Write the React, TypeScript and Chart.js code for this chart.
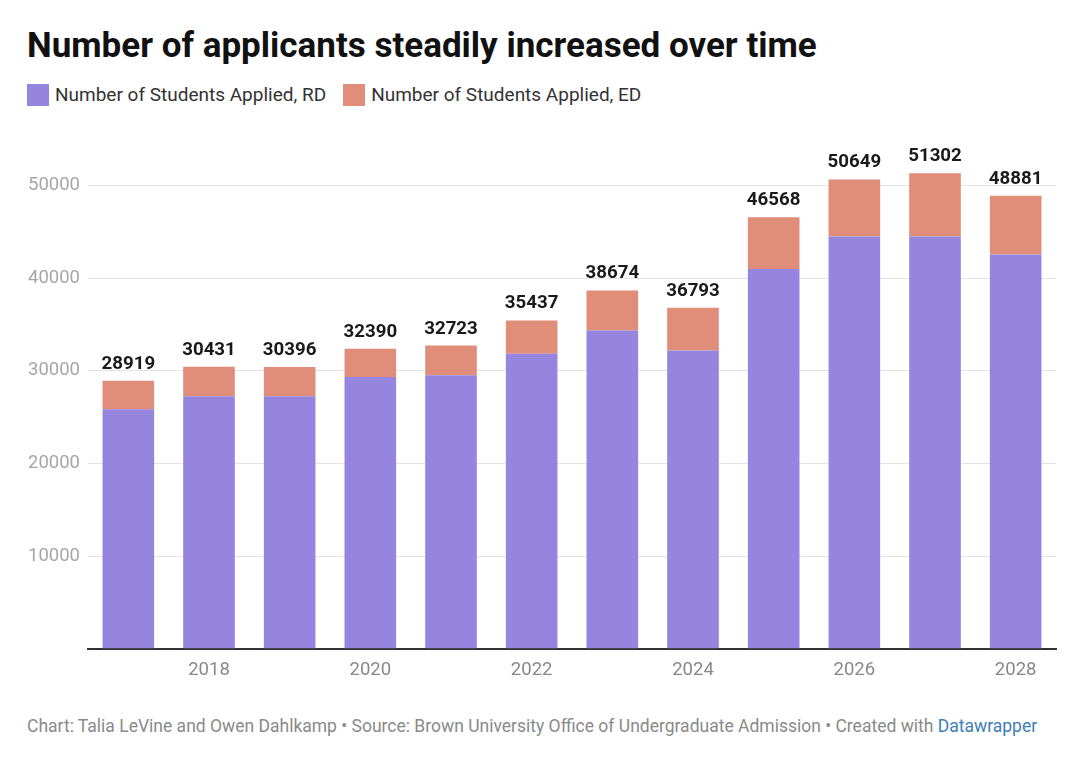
import React, { useEffect, useRef } from "react";
import { Chart, registerables } from "chart.js";

Chart.register(...registerables);

const years = ["2017", "2018", "2019", "2020", "2021", "2022", "2023", "2024", "2025", "2026", "2027", "2028"];
const rdApplied = [25860, 27260, 27260, 29330, 29510, 31840, 34360, 32200, 40990, 44480, 44480, 42540];
const edApplied = [3059, 3171, 3136, 3060, 3213, 3597, 4314, 4593, 5578, 6169, 6822, 6341];
const yTicks = [0, 10000, 20000, 30000, 40000, 50000];

const PURPLE = "rgb(150,133,222)";
const SALMON = "rgb(224,141,121)";
const FONT = "Roboto, 'Noto Sans', sans-serif";

const totalLabels = {
  id: "totalLabels",
  afterDatasetsDraw(chart: any) {
    const ctx = chart.ctx;
    const meta = chart.getDatasetMeta(1);
    ctx.save();
    ctx.font = `bold 18.7px ${FONT}`;
    ctx.fillStyle = "#1a1a1a";
    ctx.textAlign = "center";
    ctx.textBaseline = "alphabetic";
    meta.data.forEach((bar: any, i: number) => {
      const total = rdApplied[i] + edApplied[i];
      ctx.fillText(String(total), bar.x, bar.y - 12);
    });
    ctx.restore();
  },
};

export default function App() {
  const ref = useRef<HTMLCanvasElement>(null);
  useEffect(() => {
    const chart = new Chart(ref.current!, {
      type: "bar",
      data: {
        labels: years,
        datasets: [
          { label: "Number of Students Applied, RD", data: rdApplied, backgroundColor: PURPLE },
          { label: "Number of Students Applied, ED", data: edApplied, backgroundColor: SALMON },
        ],
      },
      options: {
        animation: false,
        responsive: false,
        maintainAspectRatio: false,
        layout: { padding: { top: 16, right: 24, bottom: 9, left: 0 } },
        datasets: { bar: { categoryPercentage: 1, barPercentage: 0.64 } },
        plugins: { legend: { display: false }, tooltip: { enabled: false } },
        scales: {
          x: {
            stacked: true,
            grid: { display: false, drawTicks: false },
            border: { display: true, color: "#333", width: 2 },
            ticks: {
              autoSkip: false,
              maxRotation: 0,
              padding: 10,
              color: "#888",
              font: { family: FONT, size: 18.5 },
              callback: (_v: any, i: number) => (Number(years[i]) % 2 === 0 ? years[i] : ""),
            },
          },
          y: {
            stacked: true,
            min: 0,
            max: 55000,
            afterBuildTicks: (scale: any) => {
              scale.ticks = yTicks.map((v) => ({ value: v }));
            },
            afterFit: (scale: any) => {
              scale.width = 88;
            },
            grid: { color: "#e4e4e4", lineWidth: 1, drawTicks: false },
            border: { display: false },
            ticks: {
              padding: 8,
              color: "#a6a6a6",
              font: { family: FONT, size: 18.5 },
              callback: (v: any) => (v === 0 ? "" : String(v)),
            },
          },
        },
      },
      plugins: [totalLabels],
    });
    return () => chart.destroy();
  }, []);

  return (
    <div style={{ position: "absolute", left: 0, top: 0, width: 1080, height: 759, background: "#fff", fontFamily: FONT }}>
      <div style={{ position: "absolute", left: 27, top: 28, fontSize: 35, fontWeight: 700, lineHeight: 1, color: "#111", whiteSpace: "nowrap" }}>
        Number of applicants steadily increased over time
      </div>
      <div style={{ position: "absolute", left: 27, top: 84, display: "flex", alignItems: "center", fontSize: 19, color: "#333", lineHeight: "22px" }}>
        <span style={{ width: 22, height: 22, background: PURPLE, display: "inline-block", marginRight: 6 }} />
        <span style={{ marginRight: 17 }}>Number of Students Applied, RD</span>
        <span style={{ width: 22, height: 22, background: SALMON, display: "inline-block", marginRight: 6 }} />
        <span>Number of Students Applied, ED</span>
      </div>
      <canvas ref={ref} width={1080} height={580} style={{ position: "absolute", left: 0, top: 120, width: 1080, height: 580 }} />
      <div style={{ position: "absolute", left: 27, top: 715, fontSize: 17.5, color: "#8a8a8a", lineHeight: "22px", whiteSpace: "nowrap" }}>
        Chart: Talia LeVine and Owen Dahlkamp • Source: Brown University Office of Undergraduate Admission • Created with{" "}
        <span style={{ color: "#3d80b8" }}>Datawrapper</span>
      </div>
    </div>
  );
}
